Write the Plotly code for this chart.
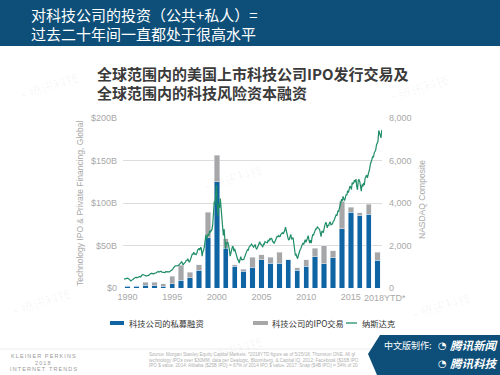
import plotly.graph_objects as go
import pandas as pd

# ---------------- data ----------------
years = list(range(1990, 2019))
private_financing = [2, 2, 3.5, 2.5, 2, 5, 9, 12, 21, 59, 125, 47, 25.5, 19.6, 24.3,
                     33, 29, 29, 33, 21, 25.5, 37, 28.6, 35.7, 70, 89.4, 85, 86.7, 32.5]
ipo_total = [2.5, 2.5, 7, 7, 5, 14, 27, 18.5, 27.5, 89, 156, 58, 27.5, 22, 36,
             39, 36, 42, 33.5, 24, 33, 47, 50, 44, 102, 95.3, 88.6, 98.4, 42]
ipo_deals = [t - p for t, p in zip(ipo_total, private_financing)]

nasdaq_by_year = {
    1990: [416, 426, 436, 420, 459, 462, 438, 381, 345, 330, 359, 374],
    1991: [414, 453, 482, 485, 506, 476, 502, 526, 527, 543, 524, 586],
    1992: [620, 634, 604, 579, 585, 564, 581, 563, 583, 605, 653, 677],
    1993: [696, 671, 690, 661, 701, 704, 705, 743, 763, 779, 754, 777],
    1994: [800, 793, 744, 734, 735, 706, 722, 766, 764, 778, 750, 752],
    1995: [755, 794, 817, 844, 865, 934, 1001, 1020, 1044, 1036, 1059, 1052],
    1996: [1060, 1100, 1101, 1191, 1243, 1185, 1081, 1142, 1227, 1222, 1293, 1291],
    1997: [1380, 1309, 1222, 1261, 1400, 1442, 1594, 1587, 1686, 1594, 1601, 1570],
    1998: [1619, 1771, 1836, 1868, 1779, 1895, 1872, 1499, 1694, 1771, 1950, 2193],
    1999: [2506, 2288, 2461, 2543, 2471, 2686, 2639, 2739, 2746, 2966, 3336, 4069],
    2000: [3940, 4697, 4850, 3861, 3401, 3966, 3767, 4206, 3673, 3370, 2598, 2471],
    2001: [2773, 2152, 1840, 2116, 2110, 2161, 2027, 1805, 1499, 1690, 1931, 1950],
    2002: [1934, 1731, 1845, 1688, 1616, 1463, 1328, 1315, 1172, 1330, 1479, 1336],
    2003: [1321, 1338, 1341, 1464, 1596, 1623, 1735, 1810, 1787, 1932, 1960, 2003],
    2004: [2066, 2030, 1994, 1920, 1987, 2048, 1887, 1838, 1897, 1975, 2097, 2175],
    2005: [2062, 2052, 1999, 1922, 2068, 2057, 2185, 2152, 2152, 2120, 2233, 2205],
    2006: [2306, 2281, 2340, 2323, 2179, 2172, 2091, 2184, 2258, 2367, 2432, 2415],
    2007: [2464, 2416, 2422, 2525, 2605, 2603, 2546, 2596, 2701, 2859, 2661, 2652],
    2008: [2390, 2271, 2279, 2413, 2523, 2293, 2326, 2368, 2092, 1721, 1536, 1577],
    2009: [1476, 1378, 1529, 1717, 1774, 1835, 1979, 2009, 2122, 2045, 2145, 2269],
    2010: [2147, 2238, 2398, 2461, 2257, 2109, 2255, 2114, 2369, 2507, 2498, 2653],
    2011: [2700, 2782, 2781, 2874, 2835, 2774, 2756, 2579, 2415, 2684, 2620, 2605],
    2012: [2814, 2967, 3092, 3046, 2827, 2935, 2940, 3067, 3116, 2977, 3010, 3020],
    2013: [3142, 3160, 3268, 3329, 3456, 3403, 3626, 3590, 3771, 3920, 4060, 4177],
    2014: [4104, 4308, 4199, 4115, 4243, 4408, 4370, 4580, 4493, 4631, 4792, 4736],
    2015: [4635, 4964, 4901, 4941, 5070, 4987, 5128, 4777, 4620, 5054, 5109, 5007],
    2016: [4614, 4558, 4870, 4775, 4948, 4843, 5162, 5213, 5312, 5189, 5324, 5383],
    2017: [5615, 5825, 5912, 6048, 6199, 6140, 6348, 6429, 6496, 6728, 6874, 6903],
    2018: [7411, 7273, 7063, 7066, 7434],
}
nasdaq_values = [v for y in sorted(nasdaq_by_year) for v in nasdaq_by_year[y]]
nasdaq_dates = pd.date_range("1990-01-31", periods=len(nasdaq_values), freq="ME")

x_tick_vals = [1990, 1995, 2000, 2005, 2010, 2015]
x_tick_text = ["1990", "1995", "2000", "2005", "2010", "2015"]
last_tick_label = "2018YTD*"
y_tick_vals = [0, 50, 100, 150, 200]
y_tick_text = ["$0", "$50B", "$100B", "$150B", "$200B"]
y2_tick_vals = [0, 2000, 4000, 6000, 8000]

legend_labels = ["科技公司的私募融资", "科技公司的IPO交易", "纳斯达克"]

# ---------------- style ----------------
BLUE = "#0f64a3"
GRAY = "#a7a7a7"
GREEN = "#1f8e66"
BANNER = "#0e4f79"
TICK = "#a8a8a8"
LATIN = "Liberation Sans, Noto Sans CJK SC, sans-serif"
CJK = "Noto Sans CJK SC, sans-serif"

W, H = 500, 375
L, R, T, B = 123, 118, 118, 87
PW, PH = W - L - R, H - T - B


def px(x):
    return (x - L) / PW


def py(y):
    return (H - B - y) / PH


fig = go.Figure()
fig.add_trace(go.Bar(x=years, y=private_financing, marker_color=BLUE, width=0.6,
                     name=legend_labels[0], showlegend=False))
fig.add_trace(go.Bar(x=years, y=ipo_deals, marker_color=GRAY, width=0.6,
                     name=legend_labels[1], showlegend=False))
fig.add_trace(go.Scatter(x=nasdaq_dates, y=nasdaq_values, mode="lines",
                         line=dict(color=GREEN, width=1.2), xaxis="x2", yaxis="y2",
                         name=legend_labels[2], showlegend=False))

fig.update_layout(
    width=W, height=H, barmode="stack",
    margin=dict(l=L, r=R, t=T, b=B, pad=0),
    paper_bgcolor="white", plot_bgcolor="white",
    xaxis=dict(range=[1989.49, 2018.49], tickvals=x_tick_vals, ticktext=x_tick_text,
               tickangle=0, showgrid=False, zeroline=False, showline=False, ticks="",
               tickfont=dict(family=LATIN, size=9, color=TICK), ticklabelstandoff=2),
    xaxis2=dict(type="date", overlaying="x", range=["1989-12-20", "2018-06-10"],
                visible=False),
    yaxis=dict(range=[0, 200], tickvals=y_tick_vals, ticktext=y_tick_text,
               showgrid=True, gridcolor="#dcdcdc", gridwidth=1, zeroline=False,
               showline=False, ticks="", ticklabelstandoff=5,
               tickfont=dict(family=LATIN, size=9, color=TICK)),
    yaxis2=dict(range=[0, 8000], tickvals=y2_tick_vals, tickformat=",", overlaying="y",
                side="right", showgrid=False, zeroline=False, showline=False, ticks="",
                ticklabelstandoff=6, tickfont=dict(family=LATIN, size=9, color=TICK)),
)

shapes = []
ann = []

# faint watermarks
for (wx, wy) in [(48, 86), (418, 88), (232, 178), (40, 302), (440, 306), (232, 350)]:
    ann.append(dict(x=px(wx), y=py(wy), text="◔ 腾讯科技", textangle=-18, showarrow=False,
                    xanchor="center", yanchor="middle",
                    font=dict(family=CJK, size=13, color="rgba(0,0,0,0.045)")))

# last x tick label (offset to the right like the reference)
ann.append(dict(x=px(385), y=py(298), text=last_tick_label, showarrow=False,
                xanchor="center", yanchor="middle",
                font=dict(family=LATIN, size=9, color=TICK)))

# header banner
shapes.append(dict(type="rect", xref="paper", yref="paper", x0=px(0), x1=px(W),
                   y0=py(46), y1=py(0), fillcolor=BANNER, line_width=0, layer="below"))
ann.append(dict(x=px(29), y=py(15), text="对科技公司的投资（公共+私人）=", showarrow=False,
                xanchor="left", yanchor="middle", font=dict(family=CJK, size=15, color="white")))
ann.append(dict(x=px(29), y=py(33), text="过去二十年间一直都处于很高水平", showarrow=False,
                xanchor="left", yanchor="middle", font=dict(family=CJK, size=15, color="white")))

# chart title
ann.append(dict(x=px(95), y=py(73), text="<b>全球范围内的美国上市科技公司IPO发行交易及</b>",
                showarrow=False, xanchor="left", yanchor="middle",
                font=dict(family=CJK, size=15, color="#3a3a3a")))
ann.append(dict(x=px(95), y=py(92), text="<b>全球范围内的科技风险资本融资</b>",
                showarrow=False, xanchor="left", yanchor="middle",
                font=dict(family=CJK, size=15, color="#3a3a3a")))

# axis titles
ann.append(dict(x=px(80), y=py(204), text="Technology IPO & Private Financing, Global",
                textangle=-90, showarrow=False, xanchor="center", yanchor="middle",
                font=dict(family=LATIN, size=8.5, color=TICK)))
ann.append(dict(x=px(422), y=py(200), text="NASDAQ Composite", textangle=-90,
                showarrow=False, xanchor="center", yanchor="middle",
                font=dict(family=LATIN, size=8.5, color=TICK)))

# legend
LY = 323
shapes.append(dict(type="rect", xref="paper", yref="paper", x0=px(110), x1=px(124),
                   y0=py(LY + 2), y1=py(LY - 2), fillcolor=BLUE, line_width=0))
shapes.append(dict(type="rect", xref="paper", yref="paper", x0=px(253), x1=px(268),
                   y0=py(LY + 2), y1=py(LY - 2), fillcolor=GRAY, line_width=0))
shapes.append(dict(type="line", xref="paper", yref="paper", x0=px(346), x1=px(357),
                   y0=py(LY), y1=py(LY), line=dict(color=GREEN, width=1.3)))
for xx, label in zip([127, 270, 360], legend_labels):
    ann.append(dict(x=px(xx), y=py(LY), text=label, showarrow=False, xanchor="left",
                    yanchor="middle", font=dict(family=CJK, size=8.3, color="#333333")))

# footer
shapes.append(dict(type="line", xref="paper", yref="paper", x0=px(0), x1=px(372),
                   y0=py(349), y1=py(349), line=dict(color="#ececec", width=1)))
for yy, t in [(356, "KLEINER PERKINS"), (362.5, "2018"), (368.5, "INTERNET TRENDS")]:
    spaced = "\u2009".join(t)
    ann.append(dict(x=px(43), y=py(yy), text=spaced, showarrow=False, xanchor="center",
                    yanchor="middle", font=dict(family=LATIN, size=5.5, color="#9a9a9a")))
src = [
    "Source: Morgan Stanley Equity Capital Markets. *2018YTD figure as of 5/25/18. Thomson ONE. All gl",
    "technology IPOs over $30MM, data per Dealogic, Bloomberg, & Capital IQ. 2012: Facebook ($16B IPO",
    "IPO $ value. 2014: Alibaba ($25B IPO) = 67% of 2014 IPO $ value. 2017: Snap ($4B IPO) = 34% of 20",
]
for yy, t in zip([354.5, 360, 365.5], src):
    ann.append(dict(x=px(147), y=py(yy), text=t, showarrow=False, xanchor="left",
                    yanchor="middle", font=dict(family=LATIN, size=4.6, color="#b0b0b0")))

# corner badge
pts = [(380, 335), (500, 335), (500, 375), (377, 375), (368, 354)]
path = "M " + " L ".join(f"{px(a)},{py(b)}" for a, b in pts) + " Z"
shapes.append(dict(type="path", xref="paper", yref="paper", path=path,
                   fillcolor=BANNER, line_width=0, layer="above"))
ann.append(dict(x=px(382), y=py(345), text="中文版制作:", showarrow=False, xanchor="left",
                yanchor="middle", font=dict(family=CJK, size=9, color="white")))
for yy, t in [(345, "<b><i>腾讯新闻</i></b>"), (363, "<b><i>腾讯科技</i></b>")]:
    ann.append(dict(x=px(436), y=py(yy), text="◔", showarrow=False, xanchor="left",
                    yanchor="middle", font=dict(family="DejaVu Sans", size=10, color="white")))
    ann.append(dict(x=px(448), y=py(yy), text=t, showarrow=False, xanchor="left",
                    yanchor="middle", font=dict(family=CJK, size=11.5, color="white")))

for a in ann:
    a.setdefault("xref", "paper")
    a.setdefault("yref", "paper")
fig.update_layout(shapes=shapes, annotations=ann)

fig.write_html("out.html", config={"displayModeBar": False},
               post_script="document.body.style.margin='0';")
